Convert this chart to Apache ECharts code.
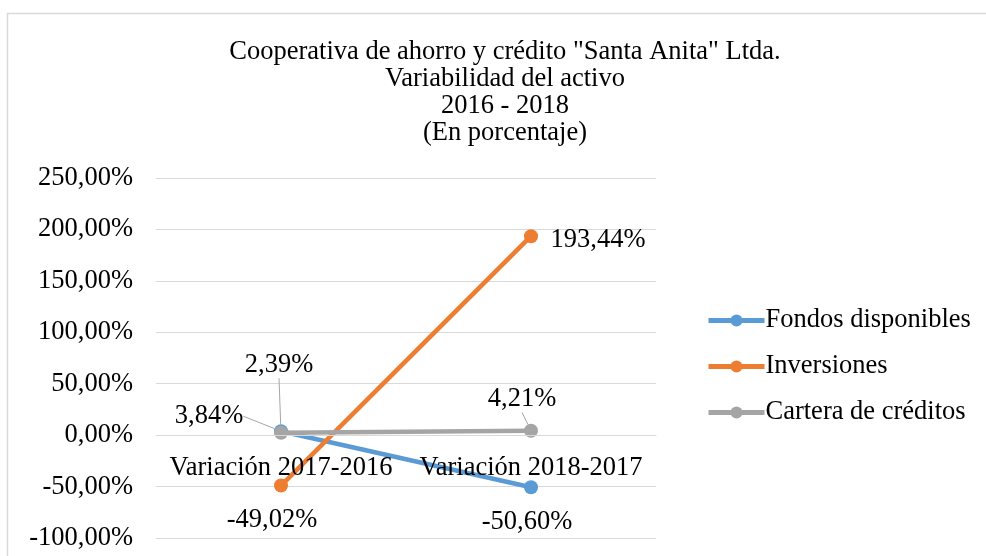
<!DOCTYPE html>
<html>
<head>
<meta charset="utf-8">
<script src="https://cdn.jsdelivr.net/npm/echarts@6/dist/echarts.min.js"></script>
<style>html,body{margin:0;padding:0;background:#fff}#c{width:986px;height:556px}</style>
</head>
<body>
<div id="c"></div>
<script>
const categories = ['Variación 2017-2016', 'Variación 2018-2017'];
const seriesNames = ['Fondos disponibles', 'Inversiones', 'Cartera de créditos'];
const fondos = [3.84, -50.60];
const inversiones = [-49.02, 193.44];
const cartera = [2.39, 4.21];
const yMin = -100, yMax = 250, yStep = 50;

const FONT = "'Liberation Serif', 'Times New Roman', serif";
const FS = 26.5;
const colors = ['#5B9BD5', '#ED7D31', '#A5A5A5'];
// label offsets (dx, dy) relative to point, and whether a leader line shows
const offsets = [
  [[-72, -15, true], [-4, 35, false]],
  [[-9, 34, false], [67, 4, false]],
  [[-2, -68, true], [-9, -32, true]]
];
const fmt = v => v.toFixed(2).replace('.', ',') + '%';

function mkSeries(i, vals) {
  return {
    name: seriesNames[i],
    type: 'line',
    data: vals.map((v, j) => ({ value: v, labelLine: { show: offsets[i][j][2] } })),
    symbol: 'circle',
    symbolSize: 14,
    lineStyle: { width: 4.5, color: colors[i] },
    itemStyle: { color: colors[i] },
    z: i === 2 ? 5 : (i === 1 ? 4 : 3),
    label: {
      show: true, position: 'inside',
      formatter: p => fmt(p.value),
      fontFamily: FONT, fontSize: FS, color: '#000'
    },
    labelLine: { show: true, lineStyle: { color: '#a6a6a6', width: 1 } },
    labelLayout: p => {
      const o = offsets[i][p.dataIndex];
      return { dx: o[0], dy: o[1] };
    },
    emphasis: { disabled: true },
    animation: false
  };
}

const chart = echarts.init(document.getElementById('c'), null, { renderer: 'canvas' });

chart.setOption({
  backgroundColor: '#fff',
  animation: false,
  graphic: [{
    type: 'rect', shape: { x: 7.5, y: 13.5, width: 1200, height: 800 },
    style: { fill: 'none', stroke: '#d9d9d9', lineWidth: 1.5 }, silent: true, z: -10
  }],
  title: {
    text: 'Cooperativa de ahorro y crédito "Santa Anita" Ltda.\nVariabilidad del activo\n2016 - 2018\n(En porcentaje)',
    left: 500, top: 34, textAlign: 'center',
    textStyle: { fontFamily: FONT, fontSize: FS, fontWeight: 'normal', color: '#000', lineHeight: 27 }
  },
  legend: {
    orient: 'vertical', left: 701, top: 302,
    itemWidth: 56, itemHeight: 15, itemGap: 19,
    lineStyle: { width: 5 },
    textStyle: { fontFamily: FONT, fontSize: FS, color: '#000', padding: [0, 0, 0, -4] },
    data: seriesNames
  },
  grid: { left: 156, right: 330, top: 178, bottom: 18, containLabel: false, outerBoundsMode: 'none' },
  xAxis: {
    type: 'category', data: categories, boundaryGap: true,
    axisLine: { show: true, onZero: false, lineStyle: { color: '#d9d9d9', width: 1 } },
    axisTick: { show: false },
    axisLabel: { fontFamily: FONT, fontSize: FS, color: '#000', margin: 19, interval: 0, hideOverlap: false },
    splitLine: { show: false },
    z: 10
  },
  yAxis: {
    type: 'value', min: yMin, max: yMax, interval: yStep,
    axisLine: { show: false }, axisTick: { show: false },
    axisLabel: { fontFamily: FONT, fontSize: FS, color: '#000', margin: 23, formatter: v => fmt(v) },
    splitLine: { lineStyle: { color: '#d9d9d9', width: 1 } }
  },
  series: [mkSeries(0, fondos), mkSeries(1, inversiones), mkSeries(2, cartera)]
});

// place the category axis on the zero line (computed from the value scale)
const yZero = chart.convertToPixel({ yAxisIndex: 0 }, 0);
const yBottom = chart.convertToPixel({ yAxisIndex: 0 }, yMin);
chart.setOption({ xAxis: { offset: -(yBottom - yZero) } });
</script>
</body>
</html>
